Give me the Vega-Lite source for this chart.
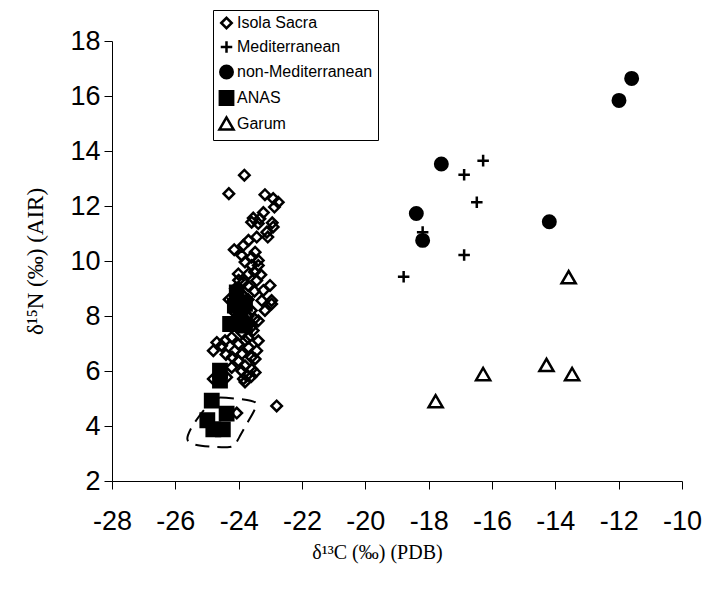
{
  "$schema": "https://vega.github.io/schema/vega-lite/v6.json",
  "width": 570,
  "height": 440,
  "autosize": {"type": "none"},
  "padding": {"left": 112, "top": 41, "right": 24, "bottom": 108},
  "background": "white",
  "config": {
    "view": {"stroke": null},
    "font": "Liberation Sans",
    "axis": {
      "grid": false,
      "domainColor": "black",
      "domainWidth": 1,
      "tickColor": "black",
      "tickWidth": 1,
      "tickSize": 8,
      "labelColor": "black",
      "labelFont": "Liberation Sans",
      "labelFontSize": 27,
      "labelOverlap": false,
      "labelFlush": false,
      "titleFont": "Liberation Serif",
      "titleFontSize": 20,
      "titleFontWeight": "normal",
      "titleColor": "black"
    },
    "legend": {
      "title": null, "orient": "none", "legendX": 101, "legendY": -31,
      "strokeColor": "black", "fillColor": "white", "padding": 5,
      "labelFont": "Liberation Sans", "labelFontSize": 16, "labelColor": "black",
      "labelOffset": 2, "rowPadding": 2,
      "symbolStrokeWidth": 2.5
    }
  },
  "layer": [
    {
      "data": {
        "values": [
          {"i": 1, "c13": -24.59, "n15": 5.04},
          {"i": 2, "c13": -23.43, "n15": 4.94},
          {"i": 3, "c13": -23.41, "n15": 4.73},
          {"i": 4, "c13": -23.75, "n15": 4.07},
          {"i": 5, "c13": -23.96, "n15": 3.64},
          {"i": 6, "c13": -24.12, "n15": 3.28},
          {"i": 7, "c13": -24.27, "n15": 3.21},
          {"i": 8, "c13": -24.96, "n15": 3.25},
          {"i": 9, "c13": -25.43, "n15": 3.31},
          {"i": 10, "c13": -25.64, "n15": 3.46},
          {"i": 11, "c13": -25.62, "n15": 3.64},
          {"i": 12, "c13": -25.48, "n15": 4.0},
          {"i": 13, "c13": -25.12, "n15": 4.55},
          {"i": 14, "c13": -24.85, "n15": 4.92},
          {"i": 15, "c13": -24.59, "n15": 5.04}
        ]
      },
      "mark": {"type": "line", "color": "black", "strokeWidth": 2, "strokeDash": [14, 8], "interpolate": "basis"},
      "encoding": {
        "x": {"field": "c13", "type": "quantitative"},
        "y": {"field": "n15", "type": "quantitative"},
        "order": {"field": "i", "type": "quantitative"}
      }
    },
    {
      "data": {
        "values": [
          {"g": "Isola Sacra", "c13": -23.82, "n15": 13.12},
          {"g": "Isola Sacra", "c13": -24.31, "n15": 12.45},
          {"g": "Isola Sacra", "c13": -23.17, "n15": 12.41},
          {"g": "Isola Sacra", "c13": -22.91, "n15": 12.27},
          {"g": "Isola Sacra", "c13": -22.75, "n15": 12.14},
          {"g": "Isola Sacra", "c13": -22.87, "n15": 11.96},
          {"g": "Isola Sacra", "c13": -23.22, "n15": 11.76},
          {"g": "Isola Sacra", "c13": -23.54, "n15": 11.56},
          {"g": "Isola Sacra", "c13": -23.33, "n15": 11.54},
          {"g": "Isola Sacra", "c13": -22.94, "n15": 11.39},
          {"g": "Isola Sacra", "c13": -23.59, "n15": 11.41},
          {"g": "Isola Sacra", "c13": -23.38, "n15": 11.36},
          {"g": "Isola Sacra", "c13": -22.91, "n15": 11.24},
          {"g": "Isola Sacra", "c13": -23.11, "n15": 11.05},
          {"g": "Isola Sacra", "c13": -23.08, "n15": 10.87},
          {"g": "Isola Sacra", "c13": -23.43, "n15": 10.87},
          {"g": "Isola Sacra", "c13": -23.69, "n15": 10.75},
          {"g": "Isola Sacra", "c13": -23.85, "n15": 10.57},
          {"g": "Isola Sacra", "c13": -24.14, "n15": 10.41},
          {"g": "Isola Sacra", "c13": -23.48, "n15": 10.32},
          {"g": "Isola Sacra", "c13": -23.59, "n15": 10.14},
          {"g": "Isola Sacra", "c13": -23.38, "n15": 10.02},
          {"g": "Isola Sacra", "c13": -23.8, "n15": 9.96},
          {"g": "Isola Sacra", "c13": -23.59, "n15": 9.84},
          {"g": "Isola Sacra", "c13": -23.38, "n15": 9.84},
          {"g": "Isola Sacra", "c13": -24.01, "n15": 9.53},
          {"g": "Isola Sacra", "c13": -23.69, "n15": 9.53},
          {"g": "Isola Sacra", "c13": -23.85, "n15": 9.23},
          {"g": "Isola Sacra", "c13": -23.43, "n15": 9.29},
          {"g": "Isola Sacra", "c13": -23.01, "n15": 9.11},
          {"g": "Isola Sacra", "c13": -23.22, "n15": 8.93},
          {"g": "Isola Sacra", "c13": -22.96, "n15": 8.56},
          {"g": "Isola Sacra", "c13": -23.27, "n15": 8.56},
          {"g": "Isola Sacra", "c13": -22.96, "n15": 8.44},
          {"g": "Isola Sacra", "c13": -23.17, "n15": 8.2},
          {"g": "Isola Sacra", "c13": -23.38, "n15": 7.83},
          {"g": "Isola Sacra", "c13": -23.54, "n15": 7.47},
          {"g": "Isola Sacra", "c13": -23.38, "n15": 7.1},
          {"g": "Isola Sacra", "c13": -23.43, "n15": 6.74},
          {"g": "Isola Sacra", "c13": -23.48, "n15": 6.44},
          {"g": "Isola Sacra", "c13": -23.59, "n15": 6.07},
          {"g": "Isola Sacra", "c13": -23.48, "n15": 5.95},
          {"g": "Isola Sacra", "c13": -23.75, "n15": 5.83},
          {"g": "Isola Sacra", "c13": -23.85, "n15": 5.71},
          {"g": "Isola Sacra", "c13": -24.22, "n15": 7.22},
          {"g": "Isola Sacra", "c13": -24.43, "n15": 7.1},
          {"g": "Isola Sacra", "c13": -24.69, "n15": 7.04},
          {"g": "Isola Sacra", "c13": -24.8, "n15": 6.74},
          {"g": "Isola Sacra", "c13": -24.54, "n15": 6.92},
          {"g": "Isola Sacra", "c13": -24.12, "n15": 6.74},
          {"g": "Isola Sacra", "c13": -24.01, "n15": 6.98},
          {"g": "Isola Sacra", "c13": -23.9, "n15": 6.62},
          {"g": "Isola Sacra", "c13": -23.8, "n15": 7.1},
          {"g": "Isola Sacra", "c13": -23.69, "n15": 6.86},
          {"g": "Isola Sacra", "c13": -24.01, "n15": 6.37},
          {"g": "Isola Sacra", "c13": -23.8, "n15": 6.19},
          {"g": "Isola Sacra", "c13": -24.22, "n15": 6.13},
          {"g": "Isola Sacra", "c13": -24.8, "n15": 5.71},
          {"g": "Isola Sacra", "c13": -24.38, "n15": 5.77},
          {"g": "Isola Sacra", "c13": -24.06, "n15": 4.47},
          {"g": "Isola Sacra", "c13": -22.8, "n15": 4.73},
          {"g": "Isola Sacra", "c13": -23.8, "n15": 5.6},
          {"g": "Isola Sacra", "c13": -23.9, "n15": 8.8},
          {"g": "Isola Sacra", "c13": -23.7, "n15": 8.6},
          {"g": "Isola Sacra", "c13": -23.6, "n15": 8.2},
          {"g": "Isola Sacra", "c13": -23.8, "n15": 7.9},
          {"g": "Isola Sacra", "c13": -23.6, "n15": 7.6},
          {"g": "Isola Sacra", "c13": -23.9, "n15": 7.4},
          {"g": "Isola Sacra", "c13": -24.0, "n15": 7.7},
          {"g": "Isola Sacra", "c13": -23.7, "n15": 7.2},
          {"g": "Isola Sacra", "c13": -24.1, "n15": 8.1},
          {"g": "Isola Sacra", "c13": -23.5, "n15": 8.9},
          {"g": "Isola Sacra", "c13": -23.7, "n15": 9.1},
          {"g": "Isola Sacra", "c13": -24.1, "n15": 9.0},
          {"g": "Isola Sacra", "c13": -24.3, "n15": 8.6},
          {"g": "Isola Sacra", "c13": -23.6, "n15": 6.5},
          {"g": "Isola Sacra", "c13": -23.9, "n15": 6.0},
          {"g": "Isola Sacra", "c13": -24.2, "n15": 6.5},
          {"g": "Isola Sacra", "c13": -23.5, "n15": 9.6},
          {"g": "Isola Sacra", "c13": -23.9, "n15": 10.2},
          {"g": "Isola Sacra", "c13": -24.0, "n15": 9.3},
          {"g": "Isola Sacra", "c13": -23.3, "n15": 9.5},
          {"g": "Isola Sacra", "c13": -23.5, "n15": 7.9},
          {"g": "Isola Sacra", "c13": -23.7, "n15": 8.0},
          {"g": "Isola Sacra", "c13": -24.4, "n15": 6.6},
          {"g": "Isola Sacra", "c13": -23.6, "n15": 5.8},
          {"g": "Mediterranean", "c13": -16.28, "n15": 13.65},
          {"g": "Mediterranean", "c13": -16.88, "n15": 13.14},
          {"g": "Mediterranean", "c13": -16.48, "n15": 12.14},
          {"g": "Mediterranean", "c13": -18.19, "n15": 11.05},
          {"g": "Mediterranean", "c13": -16.88, "n15": 10.22},
          {"g": "Mediterranean", "c13": -18.79, "n15": 9.43},
          {"g": "non-Mediterranean", "c13": -11.59, "n15": 16.64},
          {"g": "non-Mediterranean", "c13": -11.99, "n15": 15.84},
          {"g": "non-Mediterranean", "c13": -17.6, "n15": 13.53},
          {"g": "non-Mediterranean", "c13": -18.39, "n15": 11.73},
          {"g": "non-Mediterranean", "c13": -14.19, "n15": 11.43},
          {"g": "non-Mediterranean", "c13": -18.19, "n15": 10.75},
          {"g": "ANAS", "c13": -24.06, "n15": 8.86},
          {"g": "ANAS", "c13": -24.12, "n15": 8.38},
          {"g": "ANAS", "c13": -23.8, "n15": 8.44},
          {"g": "ANAS", "c13": -23.95, "n15": 8.15},
          {"g": "ANAS", "c13": -24.27, "n15": 7.71},
          {"g": "ANAS", "c13": -23.8, "n15": 7.65},
          {"g": "ANAS", "c13": -24.59, "n15": 6.01},
          {"g": "ANAS", "c13": -24.59, "n15": 5.65},
          {"g": "ANAS", "c13": -24.85, "n15": 4.92},
          {"g": "ANAS", "c13": -24.38, "n15": 4.45},
          {"g": "ANAS", "c13": -24.99, "n15": 4.21},
          {"g": "ANAS", "c13": -24.8, "n15": 3.88},
          {"g": "ANAS", "c13": -24.5, "n15": 3.88},
          {"g": "Garum", "c13": -13.58, "n15": 9.41},
          {"g": "Garum", "c13": -16.28, "n15": 5.89},
          {"g": "Garum", "c13": -14.28, "n15": 6.22},
          {"g": "Garum", "c13": -13.47, "n15": 5.89},
          {"g": "Garum", "c13": -17.78, "n15": 4.9}
        ]
      },
      "mark": {"type": "point", "filled": false, "strokeWidth": 2.5, "opacity": 1},
      "encoding": {
        "x": {
          "field": "c13", "type": "quantitative",
          "scale": {"domain": [-28, -10], "nice": false, "zero": false},
          "axis": {"values": [-28, -26, -24, -22, -20, -18, -16, -14, -12, -10], "labelExpr": "datum.value < 0 ? '-' + abs(datum.value) : '' + datum.value", "labelPadding": 19, "title": "δ¹³C (‰) (PDB)", "titlePadding": 8, "titleX": 265, "titleAnchor": null}
        },
        "y": {
          "field": "n15", "type": "quantitative",
          "scale": {"domain": [2, 18], "nice": false, "zero": false},
          "axis": {"values": [2, 4, 6, 8, 10, 12, 14, 16, 18], "labelPadding": 4, "title": "δ¹⁵N (‰) (AIR)", "titleFontSize": 23, "titlePadding": 22}
        },
        "shape": {
          "field": "g", "type": "nominal",
          "scale": {
            "domain": ["Isola Sacra", "Mediterranean", "non-Mediterranean", "ANAS", "Garum"],
            "range": ["diamond", "M-1,0H1M0,-1V1", "circle", "square", "triangle-up"]
          },
          "legend": {}
        },
        "fill": {
          "field": "g", "type": "nominal",
          "scale": {
            "domain": ["Isola Sacra", "Mediterranean", "non-Mediterranean", "ANAS", "Garum"],
            "range": ["transparent", "transparent", "black", "black", "transparent"]
          },
          "legend": {}
        },
        "stroke": {
          "field": "g", "type": "nominal",
          "scale": {
            "domain": ["Isola Sacra", "Mediterranean", "non-Mediterranean", "ANAS", "Garum"],
            "range": ["black", "black", "black", "black", "black"]
          },
          "legend": {}
        },
        "size": {
          "field": "g", "type": "nominal",
          "scale": {
            "domain": ["Isola Sacra", "Mediterranean", "non-Mediterranean", "ANAS", "Garum"],
            "range": [110, 200, 140, 165, 130]
          },
          "legend": {}
        }
      }
    }
  ]
}
